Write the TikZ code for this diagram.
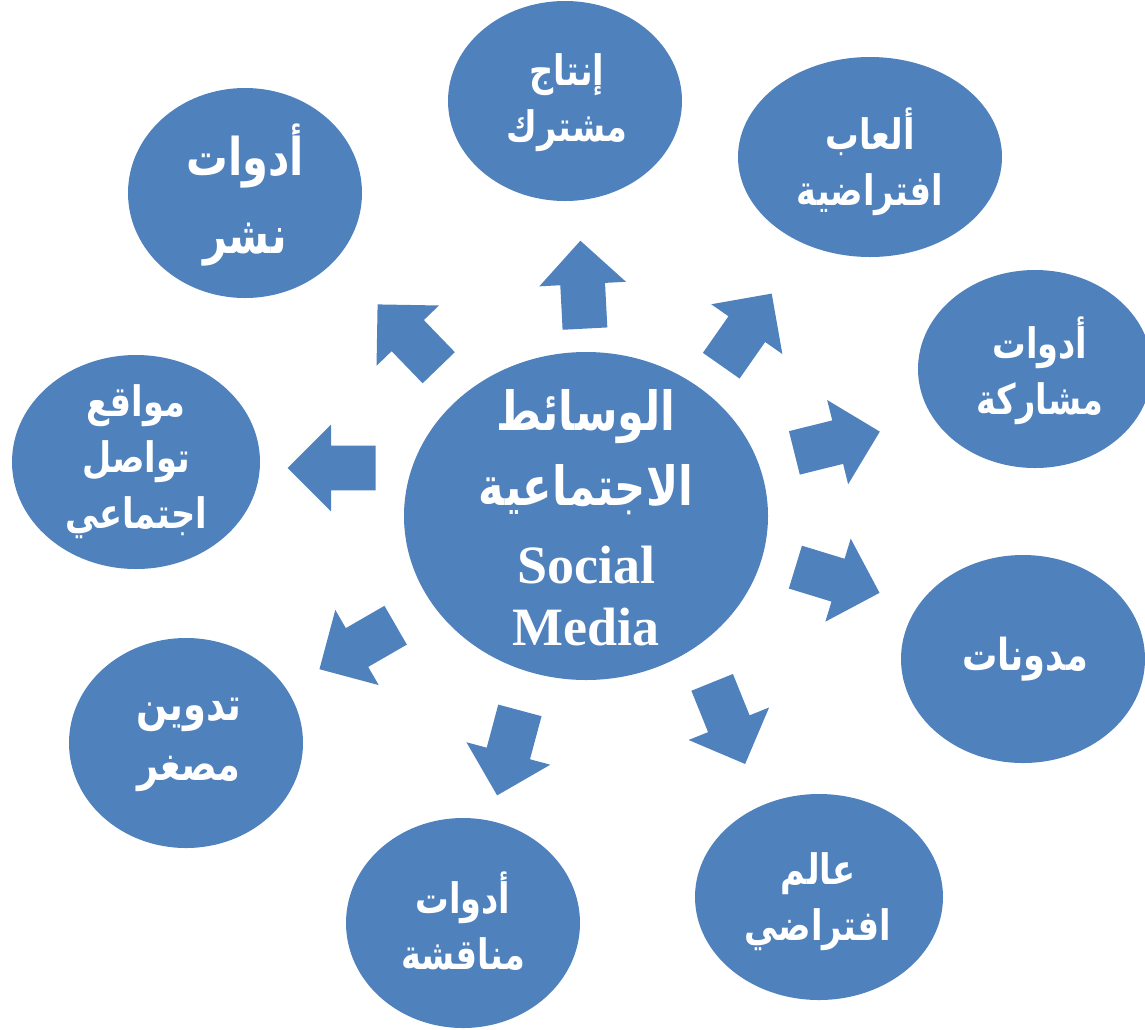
\documentclass[tikz,border=0pt]{standalone}
\usepackage{fontspec}
\setmainfont{Liberation Serif}
\newfontfamily\arabicfont[Script=Arabic,FakeStretch=0.8]{DejaVu Sans}
\TeXXeTstate=1
\usetikzlibrary{shapes.geometric,shapes.arrows}
\definecolor{boxblue}{HTML}{4F81BD}
\newcommand{\arline}[1]{\beginR #1\endR}
\begin{document}
\begin{tikzpicture}[x=0.5pt, y=-0.5pt,
    bubble/.style={ellipse, fill=boxblue, draw=none, inner sep=0pt},
    words/.style={text=white, align=center, font=\arabicfont\bfseries\fontsize{21}{28}\selectfont},
    pointer/.style={single arrow, fill=boxblue, draw=none, anchor=tail, inner xsep=0pt, inner ysep=11pt,
      minimum height=44pt, single arrow head extend=10.5pt, single arrow head indent=0pt}]
  \useasboundingbox (0,0) rectangle (1145,1029);

  % centre and the nine tools round it
  \node[bubble, minimum width=182pt, minimum height=164pt] at (586,516) (hub)     {};
  \node[bubble, minimum width=117pt, minimum height=105pt] at (245,193) (pub)     {};
  \node[bubble, minimum width=117pt, minimum height=100pt] at (565,101) (prod)    {};
  \node[bubble, minimum width=132pt, minimum height=100pt] at (870,157) (games)   {};
  \node[bubble, minimum width=117pt, minimum height=99pt]  at (1035,369) (share)  {};
  \node[bubble, minimum width=122pt, minimum height=104pt] at (1023,659) (blogs)  {};
  \node[bubble, minimum width=124pt, minimum height=103pt] at (819,897) (world)   {};
  \node[bubble, minimum width=117pt, minimum height=105pt] at (463,923) (discuss) {};
  \node[bubble, minimum width=117pt, minimum height=105pt] at (186,743) (micro)   {};
  \node[bubble, minimum width=124pt, minimum height=107pt] at (136,462) (sites)   {};

  \node[words, font=\arabicfont\bfseries\fontsize{27}{35}\selectfont] at (586,518) (hub_t)
    {\arline{الوسائط}\\[2.5pt]\arline{الاجتماعية}\\[4pt]{\rmfamily\bfseries Social}\\[-4pt]{\rmfamily\bfseries Media}};
  \node[words, font=\arabicfont\bfseries\fontsize{26}{39}\selectfont] at (245,195) (pub_t)
    {\arline{أدوات}\\\arline{نشر}};
  \node[words] at (567,103) (prod_t)    {\arline{إنتاج}\\\arline{مشترك}};
  \node[words] at (870,162) (games_t)   {\arline{ألعاب}\\\arline{افتراضية}};
  \node[words] at (1040,371) (share_t)  {\arline{أدوات}\\\arline{مشاركة}};
  \node[words, font=\arabicfont\bfseries\fontsize{22}{28}\selectfont] at (1025,659) (blogs_t) {\arline{مدونات}};
  \node[words] at (818,902) (world_t)   {\arline{عالم}\\\arline{افتراضي}};
  \node[words] at (463,921) (discuss_t) {\arline{أدوات}\\\arline{مناقشة}};
  \node[words, font=\arabicfont\bfseries\fontsize{23}{30}\selectfont] at (189,745) (micro_t) {\arline{تدوين}\\\arline{مصغر}};
  \node[words] at (136,462) (sites_t)   {\arline{مواقع}\\\arline{تواصل}\\\arline{اجتماعي}};

  % block arrows pointing out of the centre
  \node[pointer, rotate=93]  at (585,329) (to_prod)    {};
  \node[pointer, rotate=134] at (439,368) (to_pub)     {};
  \node[pointer, rotate=55]  at (721,366) (to_games)   {};
  \node[pointer, rotate=14]  at (794,453) (to_share)   {};
  \node[pointer, rotate=-17] at (795,567) (to_blogs)   {};
  \node[pointer, rotate=-68] at (712,682) (to_world)   {};
  \node[pointer, rotate=-105] at (520,710) (to_discuss) {};
  \node[pointer, rotate=210] at (396,625) (to_micro)   {};
  \node[pointer, rotate=180] at (376,468) (to_sites)   {};
\end{tikzpicture}
\end{document}
